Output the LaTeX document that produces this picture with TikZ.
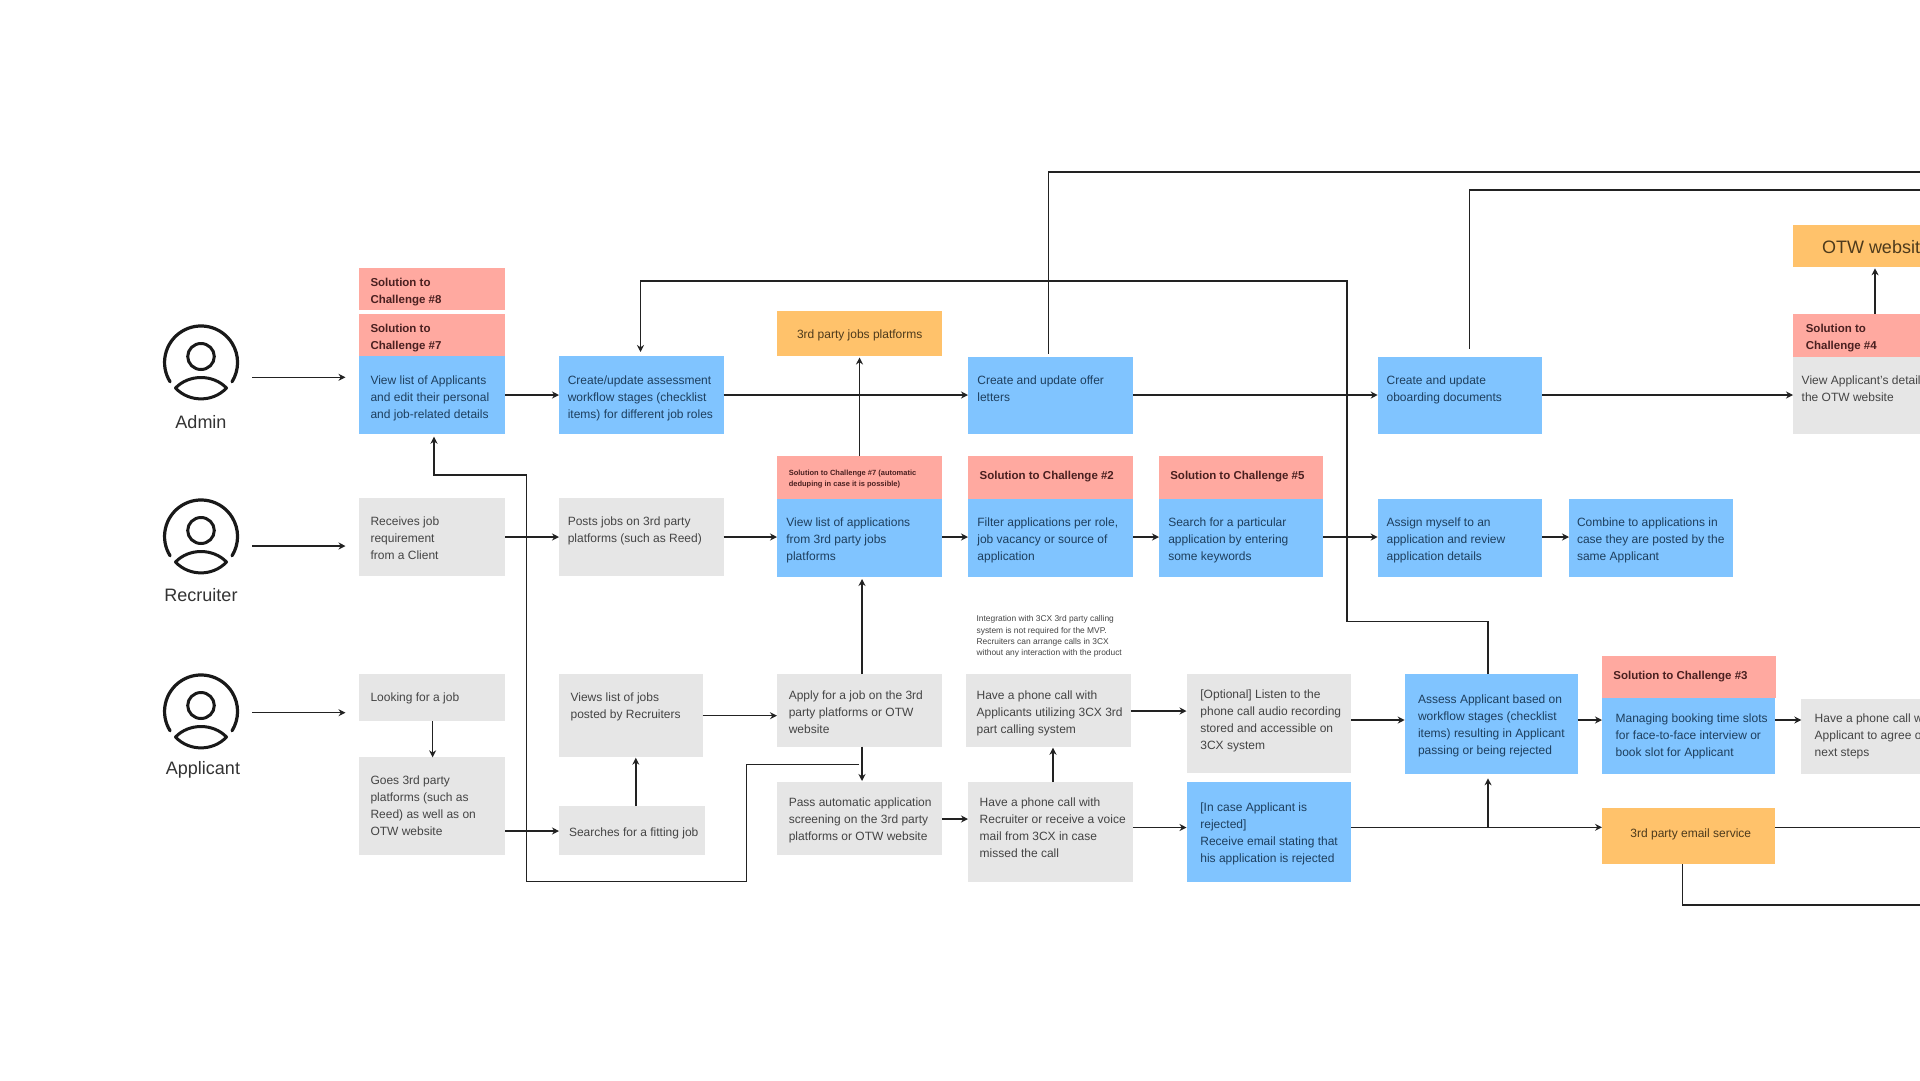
\documentclass[tikz,border=0pt]{standalone}
\usepackage{fontspec}
\setmainfont{Liberation Sans}
\usetikzlibrary{arrows.meta,calc}
\definecolor{cblue}{HTML}{80C4FF}
\definecolor{cgray}{HTML}{E6E6E6}
\definecolor{cred}{HTML}{FFA9A0}
\definecolor{corange}{HTML}{FFC26B}
\definecolor{tblue}{HTML}{1E3F5E}
\definecolor{tgray}{HTML}{444444}
\definecolor{tred}{HTML}{4A2020}
\definecolor{torange}{HTML}{4D3A1C}
\definecolor{cline}{HTML}{222222}
% name, style, x1, y1, x2, y2, text x, first line centre y, text
\newcommand{\bx}[9]{%
  \pgfmathsetmacro{\bw}{#5-#3}\pgfmathsetmacro{\bh}{#6-#4}%
  \pgfmathsetmacro{\blp}{#7-#3}\pgfmathsetmacro{\btp}{#8-#4-7.6}%
  \node[boxbase,#2,anchor=north west] (#1) at (#3,#4) {%
    \begin{minipage}[t][\bh pt][t]{\bw pt}\leftskip=\blp pt\rightskip=-60pt\parfillskip=0pt plus 1fil%
    \vspace*{\btp pt}\strut #9\end{minipage}};%
}
\tikzset{
  x=1pt,y=-1pt,
  boxbase/.style={rectangle,inner sep=0pt,outer sep=0pt,font=\fontsize{12}{17}\selectfont},
  bluebox/.style={fill=cblue,text=tblue},
  graybox/.style={fill=cgray,text=tgray},
  orangebox/.style={fill=corange,text=torange},
  redbox/.style={fill=cred,text=tred,font=\fontsize{11.5}{17}\selectfont\bfseries},
  redtiny/.style={fill=cred,text=tred,font=\fontsize{7.5}{11.3}\selectfont\bfseries},
  notetext/.style={text=tgray,font=\fontsize{8.4}{11.3}\selectfont},
  otwbox/.style={fill=corange,text=torange,font=\fontsize{18}{22}\selectfont},
  conn/.style={line width=1.4pt,draw=cline},
  arr/.style={conn,-{Stealth[length=7pt,width=7pt]}},
  rolelabel/.style={font=\fontsize{18}{22}\selectfont,text=black!80,inner sep=0pt},
  iconbox/.style={rectangle,inner sep=0pt,minimum width=76pt,minimum height=76pt}
}
\begin{document}
\begin{tikzpicture}
\useasboundingbox (0,0) rectangle (1920,1080);
\clip (0,0) rectangle (1920,1080);
\fill[white] (0,0) rectangle (1920,1080);

% --- role icons
\foreach \nm/\cy in {admin/362.5,recruiter/536.5,applicant/711.5}{
  \node[iconbox] (\nm) at (201,\cy) {};
  \draw[line width=3.2pt,black!90,line cap=round]
    ($(\nm.center)+(-30.9,19.3)$) arc[start angle=148,end angle=392,radius=36.5];
  \draw[line width=3pt,black!90] ($(\nm.center)+(0,-6)$) circle[x radius=13.3,y radius=13];
  \draw[line width=3pt,black!90,line join=round]
    ($(\nm.center)+(-25.5,25.5)$) .. controls ($(\nm.center)+(-12,11.5)$) and ($(\nm.center)+(12,11.5)$) .. ($(\nm.center)+(25.5,25.5)$)
    .. controls ($(\nm.center)+(12,40)$) and ($(\nm.center)+(-12,40)$) .. cycle;
}
\node[rolelabel] (adminlabel) at (201,422) {Admin};
\node[rolelabel] (recruiterlabel) at (201,595) {Recruiter};
\node[rolelabel] (applicantlabel) at (203,770) {Applicant};

% --- Admin row
\bx{sol8}{redbox}{358.7}{268.3}{505}{310}{370.5}{281.7}{Solution to\\Challenge \#8}
\bx{sol7}{redbox}{358.7}{314}{505}{356}{370.5}{327.7}{Solution to\\Challenge \#7}
\bx{viewlist}{bluebox}{358.7}{356}{505}{434}{370.5}{379.7}{View list of Applicants\\and edit their personal\\and job-related details}
\bx{workflow}{bluebox}{559}{356}{723.6}{434}{567.8}{379.7}{Create/update assessment\\workflow stages (checklist\\items) for different job roles}
\bx{jobsplat}{orangebox}{777}{311}{942}{356}{797}{333.7}{3rd party jobs platforms}
\bx{offer}{bluebox}{968}{356.5}{1133}{434}{977.4}{379.7}{Create and update offer\\letters}
\bx{onboard}{bluebox}{1377.7}{356.5}{1542.4}{434}{1386.6}{379.7}{Create and update\\oboarding documents}
\bx{otw}{otwbox}{1793}{225.3}{1990}{267.3}{1822}{245.4}{OTW website}
\bx{sol4}{redbox}{1793}{314}{1990}{356.7}{1805.8}{327.7}{Solution to\\Challenge \#4}
\bx{viewdetails}{graybox}{1793}{356.7}{1990}{434}{1801.7}{379.7}{View Applicant's details on\\the OTW website}

% --- Recruiter row
\bx{receives}{graybox}{358.7}{497.7}{505}{575.7}{370.5}{521}{Receives job\\requirement\\from a Client}
\bx{posts}{graybox}{559}{497.7}{723.6}{575.7}{567.8}{521}{Posts jobs on 3rd party\\platforms (such as Reed)}
\bx{sol7b}{redtiny}{777}{456}{942}{499}{788.8}{474.8}{Solution to Challenge \#7 (automatic\\deduping in case it is possible)}
\bx{viewapps}{bluebox}{777}{499}{942}{577}{786.4}{522.3}{View list of applications\\from 3rd party jobs\\platforms}
\bx{sol2}{redbox}{968}{456}{1133}{499}{979.7}{475}{Solution to Challenge \#2}
\bx{filter}{bluebox}{968}{499}{1133}{577}{977.4}{522.3}{Filter applications per role,\\job vacancy or source of\\application}
\bx{sol5}{redbox}{1159}{456}{1323}{499}{1170.3}{475}{Solution to Challenge \#5}
\bx{search}{bluebox}{1159}{499}{1323}{577}{1168.3}{522.3}{Search for a particular\\application by entering\\some keywords}
\bx{assign}{bluebox}{1377.7}{499}{1542.4}{577}{1386.6}{522.3}{Assign myself to an\\application and review\\application details}
\bx{combine}{bluebox}{1569}{499}{1733}{577}{1577}{522.3}{Combine to applications in\\case they are posted by the\\same Applicant}
\bx{note}{notetext}{976.6}{612}{1130}{660}{976.6}{621.5}{Integration with 3CX 3rd party calling\\system is not required for the MVP.\\Recruiters can arrange calls in 3CX\\without any interaction with the product}

% --- Applicant row
\bx{looking}{graybox}{358.7}{674}{505}{721.3}{370.5}{697.3}{Looking for a job}
\bx{goes}{graybox}{358.7}{757.3}{505}{855}{370.5}{780.3}{Goes 3rd party\\platforms (such as\\Reed) as well as on\\OTW website}
\bx{views}{graybox}{559}{674}{702.7}{756.7}{570.6}{697.3}{Views list of jobs\\posted by Recruiters}
\bx{searches}{graybox}{559}{806}{704.6}{855}{569}{832}{Searches for a fitting job}
\bx{apply}{graybox}{777}{674}{942}{746.7}{788.8}{694.7}{Apply for a job on the 3rd\\party platforms or OTW\\website}
\bx{pass}{graybox}{777}{782}{942}{855}{788.8}{802.3}{Pass automatic application\\screening on the 3rd party\\platforms or OTW website}
\bx{callapp}{graybox}{966}{674}{1130.8}{746.7}{976.6}{694.7}{Have a phone call with\\Applicants utilizing 3CX 3rd\\part calling system}
\bx{callrec}{graybox}{968}{782}{1133}{881.7}{979.7}{802.3}{Have a phone call with\\Recruiter or receive a voice\\mail from 3CX in case\\missed the call}
\bx{optional}{graybox}{1186.5}{674}{1351}{773.3}{1200.4}{694.3}{[Optional] Listen to the\\phone call audio recording\\stored and accessible on\\3CX system}
\bx{rejected}{bluebox}{1186.5}{782}{1351}{881.7}{1200.4}{807}{[In case Applicant is\\rejected]\\Receive email stating that\\his application is rejected}
\bx{assess}{bluebox}{1404.7}{674}{1577.5}{774.3}{1418}{699}{Assess Applicant based on\\workflow stages (checklist\\items) resulting in Applicant\\passing or being rejected}
\bx{sol3}{redbox}{1602}{656}{1775.8}{698.3}{1613.4}{674.7}{Solution to Challenge \#3}
\bx{managing}{bluebox}{1602}{698.3}{1775}{774.3}{1615.6}{717.7}{Managing booking time slots\\for face-to-face interview or\\book slot for Applicant}
\bx{callnext}{graybox}{1801.3}{698.7}{1990}{774.3}{1814.7}{717.7}{Have a phone call with\\Applicant to agree on\\next steps}
\bx{email}{orangebox}{1602}{808.3}{1775}{864.3}{1630.4}{833.3}{3rd party email service}

% --- free ends and bends
\coordinate (topout) at (1920,172);
\coordinate (secondout) at (1920,190);
\coordinate (emailout) at (1920,827.3);
\coordinate (emaillow) at (1920,905);
\coordinate (loopstart) at (859,764.3);

% --- role arrows
\draw[arr,shorten <=13pt,shorten >=0.5pt] (admin.east |- 0,377.3) -- ($(viewlist.west |- 0,377.3)+(-12.7,0)$);
\draw[arr,shorten <=13pt,shorten >=0.5pt] (recruiter.east |- 0,546) -- ($(receives.west |- 0,546)+(-12.7,0)$);
\draw[arr,shorten <=13pt,shorten >=0.5pt] (applicant.east |- 0,712.7) -- ($(looking.west |- 0,712.7)+(-12.7,0)$);

% --- top row
\draw[arr] (viewlist.east |- 0,395) -- (workflow.west |- 0,395);
\draw[arr] (workflow.east |- 0,395) -- (offer.west |- 0,395);
\draw[arr] (offer.east |- 0,395) -- (onboard.west |- 0,395);
\draw[arr] (onboard.east |- 0,395) -- (viewdetails.west |- 0,395);
\draw[arr,shorten >=1.5pt] (sol7b.north -| 859.5,0) -- (jobsplat.south -| 859.5,0);
\draw[arr,shorten >=1pt] (sol4.north -| 1875,0) -- (otw.south -| 1875,0);
\draw[conn,shorten <=3pt] (offer.north -| 1048.5,0) -- (1048.5,172) -- (topout);
\draw[conn,shorten <=8pt] (onboard.north -| 1469.5,0) -- (1469.5,190) -- (secondout);
\draw[arr,shorten >=4pt] (assess.north -| 1488,0) -- (1488,621.5) -- (1347,621.5) -- (1347,281) -- (640.5,281) -- (workflow.north -| 640.5,0);

% --- recruiter row
\draw[arr] (receives.east |- 0,537) -- (posts.west |- 0,537);
\draw[arr] (posts.east |- 0,537) -- (viewapps.west |- 0,537);
\draw[arr] (viewapps.east |- 0,537) -- (filter.west |- 0,537);
\draw[arr] (filter.east |- 0,537) -- (search.west |- 0,537);
\draw[arr] (search.east |- 0,537) -- (assign.west |- 0,537);
\draw[arr] (assign.east |- 0,537) -- (combine.west |- 0,537);

% --- applicant rows
\draw[arr] (looking.south -| 432.6,0) -- (goes.north -| 432.6,0);
\draw[arr] (goes.east |- 0,831) -- (searches.west |- 0,831);
\draw[arr,shorten >=1pt] (searches.north -| 635.8,0) -- (views.south -| 635.8,0);
\draw[arr] (views.east |- 0,715.7) -- (apply.west |- 0,715.7);
\draw[arr,shorten >=2pt] (apply.north -| 862,0) -- (viewapps.south -| 862,0);
\draw[arr,shorten >=1pt] (apply.south -| 862,0) -- (pass.north -| 862,0);
\draw[arr] (pass.east |- 0,819) -- (callrec.west |- 0,819);
\draw[arr,shorten >=1pt] (callrec.north -| 1053,0) -- (callapp.south -| 1053,0);
\draw[arr] (callapp.east |- 0,711) -- (optional.west |- 0,711);
\draw[arr] (callrec.east |- 0,827.5) -- (rejected.west |- 0,827.5);
\draw[arr] (optional.east |- 0,720) -- (assess.west |- 0,720);
\draw[arr] (assess.east |- 0,720) -- (managing.west |- 0,720);
\draw[arr] (managing.east |- 0,720) -- (callnext.west |- 0,720);
\draw[arr] (rejected.east |- 0,827.3) -- (email.west |- 0,827.3);
\draw[arr,shorten >=4pt] (1488,827.3) -- (assess.south -| 1488,0);
\draw[conn] (email.east |- 0,827.3) -- (emailout);
\draw[conn] (email.south -| 1682.6,0) -- (1682.6,905) -- (emaillow);
\draw[arr,shorten >=2.7pt] (loopstart) -- (746.6,764.3) -- (746.6,881.7) -- (526.7,881.7) -- (526.7,475) -- (434,475) -- (viewlist.south -| 434,0);
\end{tikzpicture}
\end{document}
